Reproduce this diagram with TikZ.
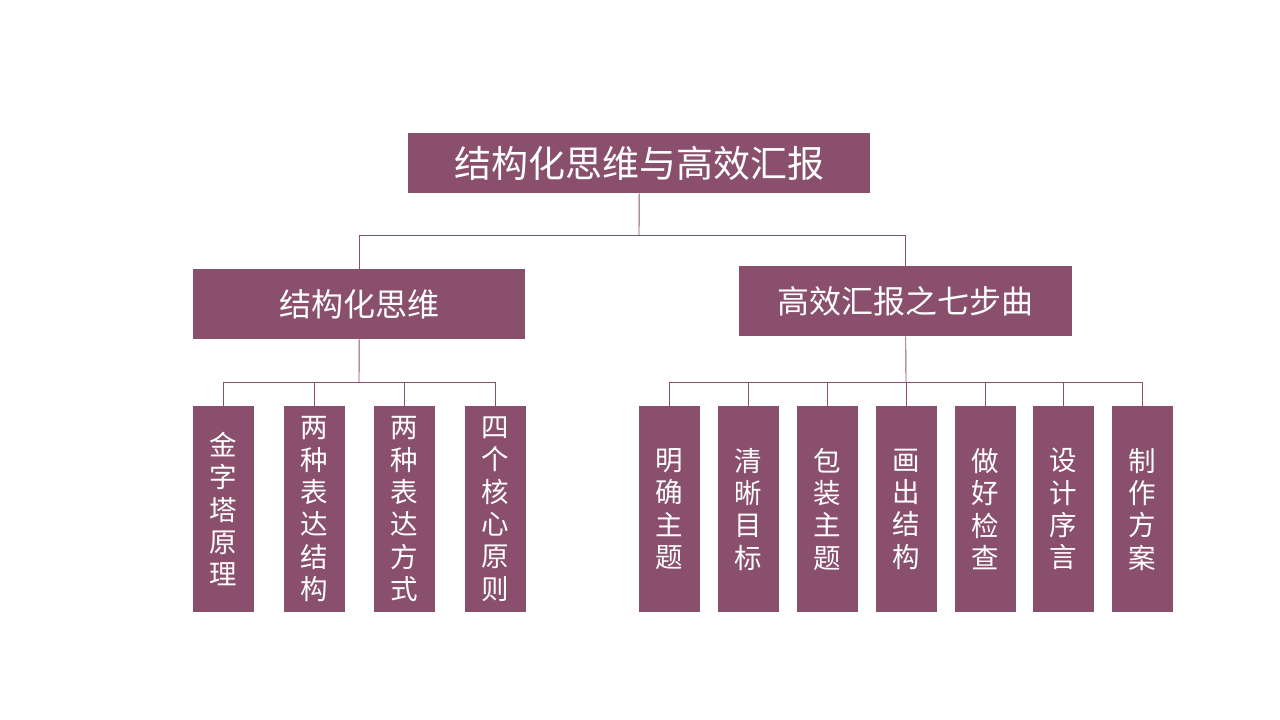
\documentclass[tikz,border=0pt]{standalone}
\usepackage{fontspec}
\setmainfont{Noto Sans CJK SC}
\definecolor{plum}{HTML}{8A4F6C}
\begin{document}
\begin{tikzpicture}[x=1pt,y=-1pt,
  box/.style={fill=plum,text=white,inner sep=0pt,anchor=north west},
  leaf/.style={box,minimum width=61pt,minimum height=206pt,align=center,font=\fontsize{27.5}{32.3}\selectfont},
  conn/.style={draw=plum,line width=0.9pt}]
\fill[white] (0,0) rectangle (1280,720);
\useasboundingbox (0,0) rectangle (1280,720);
\node[box,minimum width=462pt,minimum height=60pt,font=\fontsize{37}{42}\selectfont] (root) at (408,133) {结构化思维与高效汇报};
\node[box,minimum width=332pt,minimum height=70pt,font=\fontsize{32}{38}\selectfont] (L) at (193,269) {结构化思维};
\node[box,minimum width=333pt,minimum height=70pt,font=\fontsize{32}{38}\selectfont] (R) at (739,266) {高效汇报之七步曲};
\node[leaf] (l1) at (193,406) {金\\字\\塔\\原\\理};
\node[leaf] (l2) at (284,406) {两\\种\\表\\达\\结\\构};
\node[leaf] (l3) at (374,406) {两\\种\\表\\达\\方\\式};
\node[leaf] (l4) at (465,406) {四\\个\\核\\心\\原\\则};
\node[leaf] (r1) at (639,406) {明\\确\\主\\题};
\node[leaf] (r2) at (718,406) {清\\晰\\目\\标};
\node[leaf] (r3) at (797,406) {包\\装\\主\\题};
\node[leaf] (r4) at (876,406) {画\\出\\结\\构};
\node[leaf] (r5) at (955,406) {做\\好\\检\\查};
\node[leaf] (r6) at (1033,406) {设\\计\\序\\言};
\node[leaf] (r7) at (1112,406) {制\\作\\方\\案};
\coordinate (j0) at (639,235);
\coordinate (jL) at (359,382);
\coordinate (jR) at (906,382);
\draw[conn] (root.south) -- (j0);
\draw[conn] (j0) -| (L.north);
\draw[conn] (j0) -| (R.north);
\draw[conn] (L.south) -- (jL);
\foreach \n in {l1,l2,l3,l4} \draw[conn] (jL) -| (\n.north);
\draw[conn] (R.south) -- (jR);
\foreach \n in {r1,r2,r3,r4,r5,r6,r7} \draw[conn] (jR) -| (\n.north);
\end{tikzpicture}
\end{document}
